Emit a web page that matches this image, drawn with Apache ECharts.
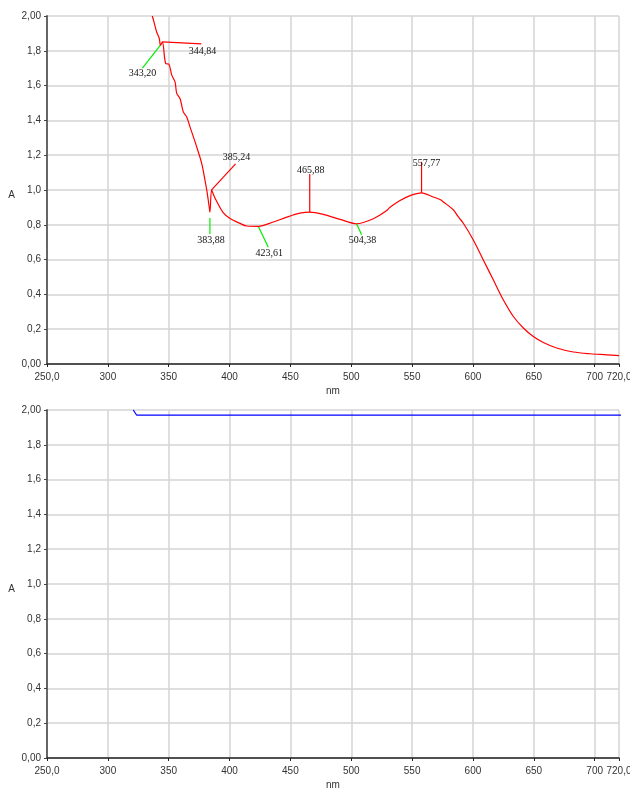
<!DOCTYPE html>
<html>
<head>
<meta charset="utf-8">
<script src="https://cdn.jsdelivr.net/npm/echarts@6/dist/echarts.min.js"></script>
<style>
html,body{margin:0;padding:0;background:#fff;}
#c{width:630px;height:788px;}
</style>
</head>
<body>
<div id="c"></div>
<script>
// Top spectrum (red)
const redNm = [336.5, 337.9, 340.1, 342.3, 343.2, 344.84, 347.5, 350.2, 352.5, 355.2, 356.6, 359.3, 362, 364.8, 367.5, 373, 377.1, 379.8, 381.7, 383.4, 383.88, 385.24, 387.0, 389.4, 394.6, 400.4, 408.6, 414.1, 423.6, 436, 447, 457.9, 465.88, 477, 490.8, 504.38, 518.1, 529.1, 531.8, 540.1, 548.3, 557.77, 567.4, 573, 576, 584, 588, 592.1, 600.3, 608.5, 616.7, 624.9, 633.2, 641.4, 649.6, 657.8, 668.8, 682.5, 696.2, 709.9, 720];
const redA  = [2.0, 1.966, 1.908, 1.870, 1.832, 1.851, 1.727, 1.723, 1.66, 1.621, 1.555, 1.526, 1.449, 1.42, 1.363, 1.248, 1.153, 1.057, 0.981, 0.895, 0.873, 1.001, 0.97, 0.935, 0.872, 0.836, 0.808, 0.793, 0.791, 0.816, 0.844, 0.867, 0.873, 0.86, 0.831, 0.806, 0.835, 0.882, 0.901, 0.94, 0.968, 0.984, 0.96, 0.945, 0.93, 0.885, 0.845, 0.809, 0.713, 0.598, 0.484, 0.369, 0.273, 0.207, 0.158, 0.124, 0.092, 0.069, 0.059, 0.053, 0.048];

// Bottom spectrum (blue)
const blueNm = [320.9, 323.7, 720, 729];
const blueA  = [2.0, 1.97, 1.97, 1.97];

// Peak / valley annotations
const peakNm    = [344.84, 385.24, 465.88, 557.77];
const peakA     = [1.851, 1.001, 0.873, 0.984];
const peakText  = ["344,84", "385,24", "465,88", "557,77"];
const valleyNm   = [343.20, 383.88, 423.6, 504.38];
const valleyA    = [1.832, 0.873, 0.791, 0.806];
const valleyText = ["343,20", "383,88", "423,61", "504,38"];

// Axis ticks
const xMin = 250, xMax = 720, xStep = 50;
const yMin = 0, yMax = 2, yStep = 0.2;

function xFmt(v){ if (v === xMin || v === xMax) return v.toFixed(1).replace('.', ','); return String(v); }
function yFmt(v){ if (Math.abs(v - yMin) < 1e-9 || Math.abs(v - yMax) < 1e-9) return v.toFixed(2).replace('.', ','); return v.toFixed(1).replace('.', ','); }

const fontFam = 'Liberation Sans, Arial, sans-serif';

function xAxisCfg(idx){
  return {
    gridIndex: idx, type: 'value', min: xMin, max: xMax, interval: xStep,
    name: 'nm', nameLocation: 'middle', nameGap: 22,
    nameTextStyle: {color: '#333', fontSize: 10, fontFamily: fontFam},
    axisLine: {show: true, onZero: false, lineStyle: {color: '#222', width: 1.5}},
    axisTick: {show: true, length: 3, lineStyle: {color: '#222'}},
    axisLabel: {formatter: xFmt, color: '#333', fontSize: 10, fontFamily: fontFam, margin: 8},
    splitLine: {show: true, lineStyle: {color: '#d4d4d4', width: 1.5}}
  };
}
function yAxisCfg(idx){
  return {
    gridIndex: idx, type: 'value', min: yMin, max: yMax, interval: yStep,
    name: 'A', nameLocation: 'middle', nameGap: 32, nameRotate: 0,
    nameTextStyle: {color: '#333', fontSize: 10, fontFamily: fontFam, verticalAlign: 'top'},
    axisLine: {show: true, lineStyle: {color: '#666', width: 2}},
    axisTick: {show: true, length: 3, lineStyle: {color: '#444'}},
    axisLabel: {formatter: yFmt, color: '#333', fontSize: 10, fontFamily: fontFam, margin: 6},
    splitLine: {show: true, lineStyle: {color: '#d4d4d4', width: 1.5}}
  };
}

const chart = echarts.init(document.getElementById('c'), null, {renderer: 'canvas', width: 630, height: 788});
chart.setOption({
  animation: false,
  backgroundColor: '#fff',
  grid: [
    {left: 47, right: 11, top: 16, height: 348, outerBoundsMode: 'none', containLabel: false},
    {left: 47, right: 11, top: 410, height: 348, outerBoundsMode: 'none', containLabel: false}
  ],
  xAxis: [xAxisCfg(0), xAxisCfg(1)],
  yAxis: [yAxisCfg(0), yAxisCfg(1)],
  series: [
    {type: 'line', xAxisIndex: 0, yAxisIndex: 0, showSymbol: false, smooth: 0.3,
     lineStyle: {color: '#ff0000', width: 1.2}, data: redNm.map((x, i) => [x, redA[i]])},
    {type: 'line', xAxisIndex: 1, yAxisIndex: 1, showSymbol: false, clip: false,
     lineStyle: {color: '#0000ff', width: 1.2}, data: blueNm.map((x, i) => [x, blueA[i]])}
  ]
});

// annotation leader offsets (pixels)
const peakLine  = [[39, 2], [24, -26], [0, -38], [0, -31]];
const peakLabel = [[40, 9], [25, -32], [1, -42], [5, -29]];
const valLineStart = [[0, 0], [0, 6], [0, 0], [0, 0]];
const valLine  = [[-18, 23], [0, 22], [10, 21], [5, 11]];
const valLabel = [[-18, 28], [1, 28], [11, 27], [6, 17]];

const g = [];
const txtStyle = {fill: '#111', font: '10px "Liberation Serif", "DejaVu Serif", serif', textAlign: 'center', textVerticalAlign: 'middle'};
peakNm.forEach((nm, i) => {
  const p = chart.convertToPixel({gridIndex: 0}, [nm, peakA[i]]);
  g.push({type: 'line', shape: {x1: p[0], y1: p[1], x2: p[0] + peakLine[i][0], y2: p[1] + peakLine[i][1]}, style: {stroke: '#ff0000', lineWidth: 1.2}});
  g.push({type: 'text', x: p[0] + peakLabel[i][0], y: p[1] + peakLabel[i][1], style: Object.assign({text: peakText[i]}, txtStyle)});
});
valleyNm.forEach((nm, i) => {
  const p = chart.convertToPixel({gridIndex: 0}, [nm, valleyA[i]]);
  g.push({type: 'line', shape: {x1: p[0] + valLineStart[i][0], y1: p[1] + valLineStart[i][1], x2: p[0] + valLine[i][0], y2: p[1] + valLine[i][1]}, style: {stroke: '#00ee00', lineWidth: 1.2}});
  g.push({type: 'text', x: p[0] + valLabel[i][0], y: p[1] + valLabel[i][1], style: Object.assign({text: valleyText[i]}, txtStyle)});
});
chart.setOption({graphic: g});
</script>
</body>
</html>
